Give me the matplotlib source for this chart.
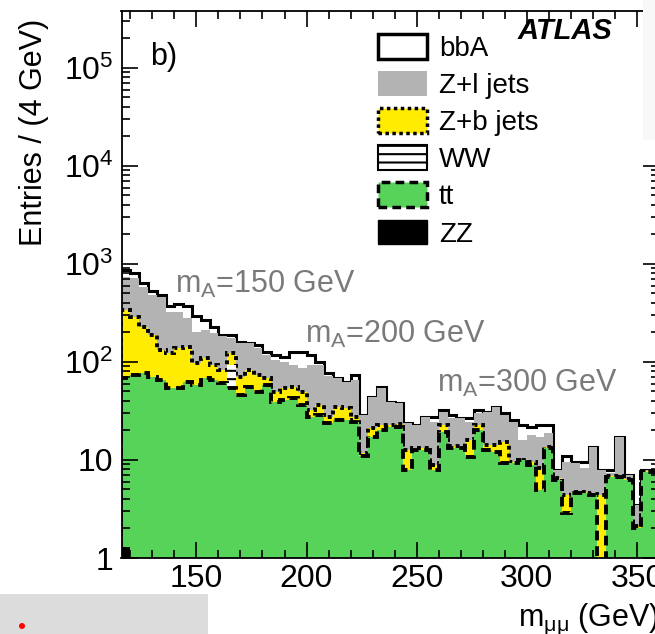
import numpy as np
import matplotlib
matplotlib.use("Agg")
import matplotlib.pyplot as plt
from matplotlib.patches import Patch, Rectangle, Ellipse
from matplotlib.ticker import LogLocator, NullFormatter, MultipleLocator

plt.rcParams['font.family'] = ['Liberation Sans', 'DejaVu Sans']
plt.rcParams['mathtext.fontset'] = 'custom'
plt.rcParams['mathtext.rm'] = 'Liberation Sans'
plt.rcParams['mathtext.it'] = 'Liberation Sans:italic'
plt.rcParams['mathtext.bf'] = 'Liberation Sans:bold'
plt.rcParams['hatch.linewidth'] = 1.5

# 4 GeV bins, 116 - 360 GeV
edges = np.arange(116, 361, 4)

# stack heights (entries / 4 GeV), bottom to top
lvl_tt = [69, 74, 77, 70, 65, 54, 54, 63, 58, 69, 65, 61, 54, 46, 56, 49,
          58, 39, 41, 43, 36, 27.5, 29, 23.9, 25.6, 25.6, 24.4, 11.0, 17.2, 20.2,
          21.7, 21.7, 7.9, 12.6, 12.6, 7.9, 19.3, 13.3, 13.3, 10.7, 20.2, 12.6,
          12.1, 9.3, 9.3, 10.0, 8.9, 4.9, 13.3, 6.3, 2.9, 4.6, 4.6, 4.4, 0.5,
          6.7, 6.7, 6.3, 2.0, 7.5, 7.5]
lvl_zb = [339, 288, 228, 189, 133, 124, 139, 142, 98, 110, 93, 83, 124, 70, 83, 74,
          69, 49, 54, 56, 49, 32, 36, 27.5, 35, 34, 27.5, 11.8, 21.2, 22.8,
          22.8, 23.3, 12.6, 13.3, 13.3, 8.9, 22.8, 13.9, 13.9, 16.0, 22.8, 14.2,
          14.2, 15.3, 9.5, 10.0, 9.5, 8.3, 13.6, 6.5, 4.4, 4.7, 4.7, 4.5, 4.4,
          6.9, 6.9, 6.4, 2.1, 7.7, 7.7]
lvl_zl = [737, 720, 583, 483, 461, 324, 324, 281, 202, 212, 198, 184, 176, 156, 156, 139,
          118, 105, 100, 93, 87, 93, 93, 72, 69, 63, 65, 29, 44, 54,
          39, 38, 23.9, 22.8, 27.5, 24.4, 31, 26.8, 26.8, 24.4, 30, 31,
          35, 29, 24.4, 16.0, 18.0, 17.2, 18.9, 7.9, 9.5, 9.3, 8.3, 13.6, 7.9,
          7.4, 17.2, 7.0, 3.5, 7.9, 7.9]
lvl_all = [860, 800, 640, 530, 483, 373, 391, 373, 295, 268, 228, 189, 189, 160, 156, 149,
           127, 118, 112, 127, 127, 118, 100, 77, 69, 63, 74, 29, 44, 56,
           39, 38, 23.9, 22.8, 27.5, 27.5, 32, 29, 26.8, 26.8, 32, 31,
           35, 30, 25.6, 22.8, 21.7, 22.8, 22.8, 7.9, 11.0, 9.5, 9.5, 13.6, 7.9,
           7.9, 17.2, 7.0, 3.5, 7.9, 7.9]
ww = np.zeros(61)
ww[12] = 39
zz = np.zeros(61)
zz[0] = 1.3

GRAY = '#b3b3b3'
YEL = '#ffec00'
GRN = '#57d35a'
DASH = (0, (2.5, 1.5))
DOT = (0, (1, 1))

fig = plt.figure(figsize=(6.55, 6.34), dpi=100)
ax = fig.add_axes([121.5 / 655, 76 / 634, 537.5 / 655, 547 / 634])
ax.set_yscale('log')

base = 0.01
ax.stairs(lvl_all, edges, baseline=base, fill=True, facecolor='white',
          edgecolor='black', lw=2.2)
ax.stairs(lvl_zl, edges, baseline=base, fill=True, facecolor=GRAY, edgecolor='none')
ax.stairs(lvl_zb, edges, baseline=base, fill=True, facecolor=YEL,
          edgecolor='black', lw=2.8, ls=DOT)
ax.stairs(np.array(lvl_tt) + ww, edges, baseline=base, fill=True, facecolor='white',
          edgecolor='black', hatch='--', lw=0)
ax.stairs(lvl_tt, edges, baseline=base, fill=True, facecolor=GRN,
          edgecolor='black', lw=2.8, ls=DASH)
ax.stairs(zz, edges, baseline=base, fill=True, facecolor='black', edgecolor='none')

ax.set_xlim(116, 360)
ax.set_ylim(1, 3.8e5)

ax.set_xticks([150, 200, 250, 300, 350])
ax.xaxis.set_minor_locator(MultipleLocator(10))
ax.set_yticks([1, 10, 1e2, 1e3, 1e4, 1e5])
ax.set_yticklabels(['1', '10', r'$\mathregular{10^{2}}$', r'$\mathregular{10^{3}}$',
                    r'$\mathregular{10^{4}}$', r'$\mathregular{10^{5}}$'])
ax.yaxis.set_minor_locator(LogLocator(base=10, subs=np.arange(2, 10), numticks=20))
ax.yaxis.set_minor_formatter(NullFormatter())
ax.tick_params(which='both', direction='in', top=True, right=True, width=1.2)
ax.tick_params(which='major', length=11.5, labelsize=23)
ax.tick_params(axis='x', which='major', pad=4)
ax.tick_params(axis='y', which='major', pad=6)
ax.tick_params(which='minor', length=6)
for s in ax.spines.values():
    s.set_linewidth(1.3)

ax.set_xlabel(r'm$_{\mathregular{μμ}}$ (GeV)', fontsize=22, loc='right', labelpad=6)
ax.set_ylabel('Entries / (4 GeV)', fontsize=22, loc='top')
ax.yaxis.set_label_coords(-0.135, 0.985)

ax.text(129, 1.3e5, 'b)', fontsize=22, va='center')
ax.text(296, 2.4e5, 'ATLAS', fontsize=21, fontweight='bold', fontstyle='italic',
        va='center')
mcol = '#7a7a7a'
ax.text(140.3, 611, r'm$_{\mathregular{A}}$=150 GeV', fontsize=22, color=mcol, va='center')
ax.text(199.4, 189, r'm$_{\mathregular{A}}$=200 GeV', fontsize=22, color=mcol, va='center')
ax.text(259.4, 61, r'm$_{\mathregular{A}}$=300 GeV', fontsize=22, color=mcol, va='center')

handles = [Patch(facecolor='white', edgecolor='black', lw=2.5),
           Patch(facecolor=GRAY, edgecolor='none'),
           Patch(facecolor=YEL, edgecolor='black', lw=2.5, ls=DOT),
           Patch(facecolor='white', edgecolor='black', hatch='--', lw=1.5),
           Patch(facecolor=GRN, edgecolor='black', lw=2.5, ls=DASH),
           Patch(facecolor='black', edgecolor='black')]
labels = ['bbA', 'Z+l jets', 'Z+b jets', 'WW', 'tt', 'ZZ']
ax.legend(handles, labels, loc='upper left', bbox_to_anchor=(378 / 655, 1 - 34 / 634),
          bbox_transform=fig.transFigure, frameon=False, fontsize=20,
          handlelength=1.75, handleheight=1.0, handletextpad=0.45,
          labelspacing=0.33, borderpad=0, borderaxespad=0)

# scan artefacts in the picture
fig.add_artist(Rectangle((643 / 655, 1 - 140 / 634), 12 / 655, 140 / 634,
                         transform=fig.transFigure, facecolor='#f8f8f8',
                         edgecolor='none', zorder=5))
fig.add_artist(Rectangle((0, 0), 208 / 655, 40 / 634, transform=fig.transFigure,
                         facecolor='#dcdcdc', edgecolor='none'))
fig.add_artist(Ellipse((22 / 655, 8 / 634), 6 / 655, 6 / 634, transform=fig.transFigure,
                       facecolor='red', edgecolor='none'))

fig.savefig('out.png', dpi=100)
